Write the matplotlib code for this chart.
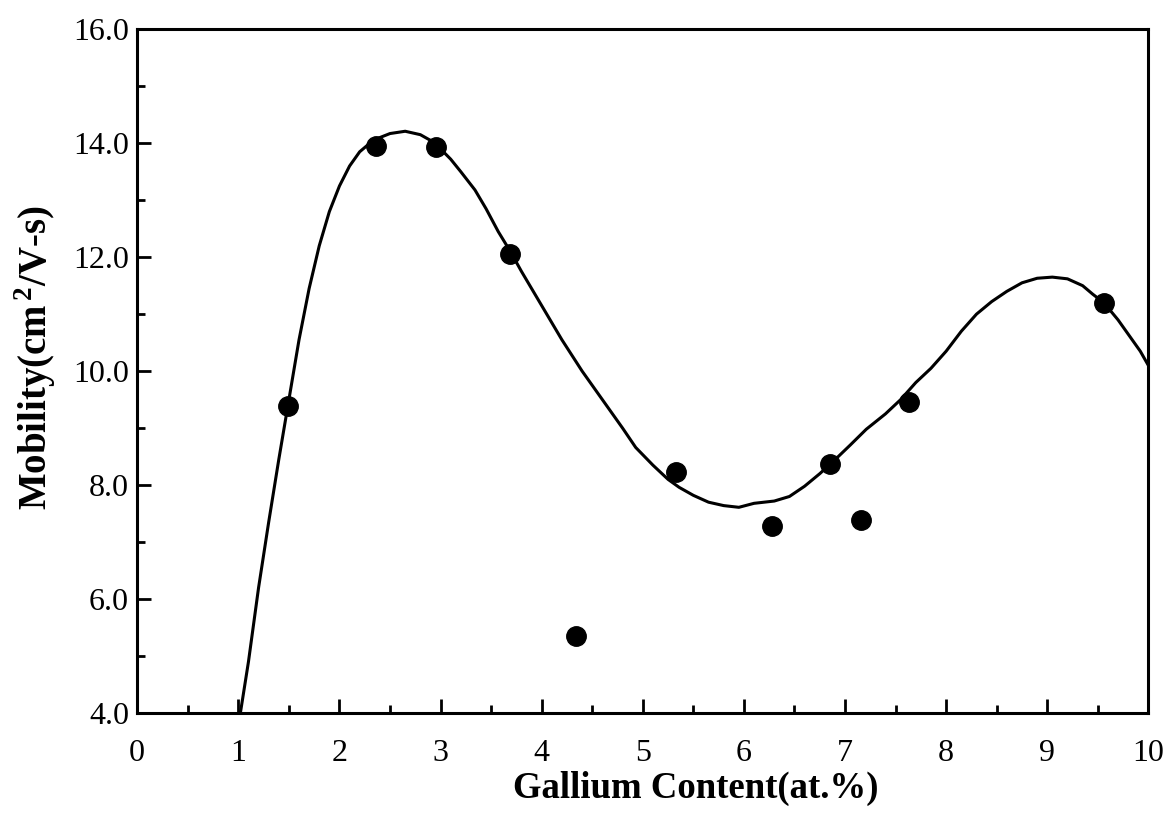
import numpy as np
import matplotlib
matplotlib.use("Agg")
import matplotlib.pyplot as plt
from matplotlib.ticker import MultipleLocator, FormatStrFormatter

# measured points
ga_content = [1.49, 2.36, 2.95, 3.69, 4.34, 5.33, 6.28, 7.16, 6.85, 7.63, 9.56]
mobility = [9.39, 13.96, 13.93, 12.05, 5.36, 8.23, 7.28, 7.38, 8.37, 9.46, 11.2]

# hand-drawn guide curve
curve_x = [1.02, 1.1, 1.2, 1.3, 1.4, 1.5, 1.6, 1.7, 1.8, 1.9, 2.0, 2.1, 2.2, 2.3,
           2.4, 2.5, 2.65, 2.8, 2.9, 3.0, 3.1, 3.2, 3.34, 3.45, 3.57, 3.69, 3.8,
           4.0, 4.2, 4.4, 4.6, 4.8, 4.93, 5.1, 5.25, 5.36, 5.5, 5.65, 5.8, 5.95,
           6.1, 6.3, 6.45, 6.6, 6.75, 6.88, 7.05, 7.21, 7.4, 7.55, 7.7, 7.85, 8.0,
           8.15, 8.3, 8.45, 8.6, 8.75, 8.9, 9.05, 9.2, 9.35, 9.45, 9.56, 9.7,
           9.82, 9.92, 10.0]
curve_y = [4.0, 4.9, 6.2, 7.35, 8.45, 9.5, 10.55, 11.45, 12.2, 12.8, 13.25, 13.6,
           13.85, 14.0, 14.1, 14.17, 14.21, 14.15, 14.05, 13.9, 13.72, 13.5, 13.18,
           12.85, 12.45, 12.1, 11.75, 11.15, 10.55, 10.0, 9.5, 9.0, 8.66, 8.35,
           8.1, 7.96, 7.82, 7.7, 7.64, 7.61, 7.68, 7.72, 7.8, 7.98, 8.2, 8.41, 8.7,
           8.98, 9.25, 9.5, 9.8, 10.05, 10.35, 10.7, 11.0, 11.22, 11.4, 11.55,
           11.63, 11.65, 11.62, 11.5, 11.35, 11.2, 10.9, 10.6, 10.35, 10.1]

plt.rcParams['font.family'] = ['Liberation Serif', 'DejaVu Serif']
plt.rcParams['mathtext.fontset'] = 'custom'
plt.rcParams['mathtext.rm'] = 'Liberation Serif'
plt.rcParams['mathtext.bf'] = 'Liberation Serif:bold'

fig = plt.figure(figsize=(11.73, 8.13), dpi=100)
ax = fig.add_axes([0.117, 0.123, 0.862, 0.841])

ax.plot(curve_x, curve_y, color='black', lw=2.2, solid_capstyle='round',
        solid_joinstyle='round')
ax.plot(ga_content, mobility, 'o', color='black', markersize=14, zorder=3)

ax.set_xlim(0, 10)
ax.set_ylim(4, 16)

ax.xaxis.set_major_locator(MultipleLocator(1))
ax.xaxis.set_minor_locator(MultipleLocator(0.5))
ax.yaxis.set_major_locator(MultipleLocator(2))
ax.yaxis.set_minor_locator(MultipleLocator(1))
ax.yaxis.set_major_formatter(FormatStrFormatter('%.1f'))

ax.tick_params(axis='x', which='major', direction='in', length=10, width=2,
               labelsize=23, pad=19, top=False)
ax.tick_params(axis='x', which='minor', direction='in', length=6, width=2, top=False)
ax.tick_params(axis='y', which='major', direction='in', length=10, width=2,
               labelsize=23, pad=6, right=False)
ax.tick_params(axis='y', which='minor', direction='in', length=6, width=2, right=False)

for sp in ax.spines.values():
    sp.set_linewidth(2.2)

ax.set_xlabel('Gallium Content(at.%)', fontsize=26.5, fontweight='bold')
ax.xaxis.set_label_coords(0.552, -0.085)
ax.set_ylabel(r'Mobility(cm$^{\,\mathbf{2}}$/V-s)', fontsize=28, fontweight='bold')
ax.yaxis.set_label_coords(-0.078, 0.52)

fig.savefig('out.png', dpi=100, facecolor='white')
